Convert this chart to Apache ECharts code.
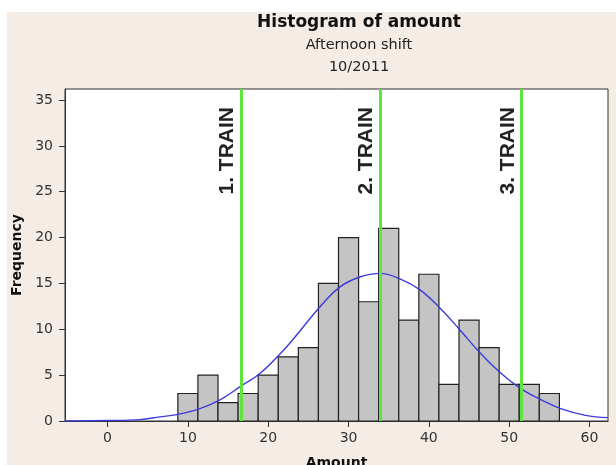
<!DOCTYPE html>
<html>
<head>
<meta charset="utf-8">
<script src="https://cdn.jsdelivr.net/npm/echarts@6/dist/echarts.min.js"></script>
<style>
  html, body { margin: 0; padding: 0; background: #fff; }
  #chart { width: 616px; height: 465px; }
</style>
</head>
<body>
<div id="chart"></div>
<script>
// histogram bins (centre of each bin, width 2.5)
var binCenters = [10, 12.5, 15, 17.5, 20, 22.5, 25, 27.5, 30, 32.5, 35, 37.5, 40, 42.5, 45, 47.5, 50, 52.5, 55];
var binCounts = [3, 5, 2, 3, 5, 7, 8, 15, 20, 13, 21, 11, 16, 4, 11, 8, 4, 4, 3];
var binWidth = 2.5;

// fitted curve
var curveX = [-5.3, 0, 4, 6.5, 8.6, 11.5, 14, 16.6, 19, 22.3, 26.4, 28.9, 31.4, 33.9, 36.4, 38.9, 41.4, 43.9, 46.3, 48.8, 51.5, 54.1, 56.4, 59.5, 62.3];
var curveY = [0.0, 0.05, 0.15, 0.45, 0.7, 1.35, 2.3, 3.8, 5.2, 8.1, 12.4, 14.6, 15.7, 16.1, 15.5, 14.3, 12.3, 9.9, 7.5, 5.35, 3.5, 2.26, 1.35, 0.62, 0.37];

// train markers
var trainX = [16.6, 33.9, 51.5];
var trainLabels = ['1. TRAIN', '2. TRAIN', '3. TRAIN'];

var xTicks = [0, 10, 20, 30, 40, 50, 60];

var chart = echarts.init(document.getElementById('chart'));

var barData = binCenters.map(function (c, i) { return [c, binCounts[i]]; });
var curveData = curveX.map(function (x, i) { return [x, curveY[i]]; });
var markData = trainX.map(function (x, i) {
  return { xAxis: x, label: { formatter: trainLabels[i] } };
});

var option = {
  animation: false,
  backgroundColor: '#fff',
  graphic: [
    { type: 'rect', z: -10, shape: { x: 7, y: 12, width: 609, height: 453 }, style: { fill: '#f5ece5' } },
    { type: 'text', style: { x: 359, y: 23, text: 'Histogram of amount', fill: '#111',
        font: 'bold 17px "DejaVu Sans", sans-serif', textAlign: 'center', textVerticalAlign: 'middle' } },
    { type: 'text', style: { x: 359, y: 45, text: 'Afternoon shift', fill: '#222',
        font: '14.5px "DejaVu Sans", sans-serif', textAlign: 'center', textVerticalAlign: 'middle' } },
    { type: 'text', style: { x: 359, y: 67, text: '10/2011', fill: '#222',
        font: '14.5px "DejaVu Sans", sans-serif', textAlign: 'center', textVerticalAlign: 'middle' } }
  ],
  grid: {
    left: 65, top: 89, right: 8, bottom: 44,
    outerBoundsMode: 'none',
    containLabel: false,
    show: true, backgroundColor: '#fff', borderColor: '#333', borderWidth: 1
  },
  xAxis: {
    type: 'value',
    min: -5.3, max: 62.3,
    name: 'Amount',
    nameLocation: 'middle',
    nameGap: 35,
    nameTextStyle: { fontFamily: 'DejaVu Sans', fontWeight: 'bold', fontSize: 14, color: '#111' },
    axisLine: { show: true, onZero: false, lineStyle: { color: '#333' } },
    axisTick: { show: true, inside: false, length: 6, customValues: xTicks, lineStyle: { color: '#333' } },
    axisLabel: { customValues: xTicks, margin: 10, fontFamily: 'DejaVu Sans', fontSize: 14, color: '#333' },
    splitLine: { show: false }
  },
  yAxis: {
    type: 'value',
    min: 0, max: 36.2, interval: 5,
    name: 'Frequency',
    nameLocation: 'middle',
    nameRotate: 90,
    nameGap: 41,
    nameTextStyle: { fontFamily: 'DejaVu Sans', fontWeight: 'bold', fontSize: 14, color: '#111' },
    axisLine: { show: true, onZero: false, lineStyle: { color: '#333' } },
    axisTick: { show: true, inside: false, length: 6, lineStyle: { color: '#333' } },
    axisLabel: {
      margin: 12, fontFamily: 'DejaVu Sans', fontSize: 14, color: '#333', showMaxLabel: false,
      formatter: function (v) { return v % 5 === 0 ? String(v) : ''; }
    },
    splitLine: { show: false }
  },
  series: [
    {
      type: 'custom',
      data: barData,
      renderItem: function (params, api) {
        var c = api.value(0), h = api.value(1);
        var p0 = api.coord([c - binWidth / 2, h]);
        var p1 = api.coord([c + binWidth / 2, 0]);
        return {
          type: 'rect',
          shape: { x: p0[0], y: p0[1], width: p1[0] - p0[0], height: p1[1] - p0[1] },
          style: { fill: '#c4c4c4', stroke: '#222', lineWidth: 1.2 }
        };
      },
      z: 2
    },
    {
      type: 'line',
      data: curveData,
      smooth: 0.4,
      showSymbol: false,
      lineStyle: { color: '#3b3bdc', width: 1.4 },
      z: 3,
      markLine: {
        silent: true,
        symbol: ['none', 'none'],
        lineStyle: { color: '#5fe53c', width: 3, type: 'solid' },
        label: {
          show: true,
          position: 'insideEndTop',
          distance: [18, 3],
          fontFamily: 'Liberation Sans',
          fontWeight: 'bold',
          fontSize: 21,
          color: '#222'
        },
        data: markData,
        z: 4
      }
    }
  ]
};

chart.setOption(option);
</script>
</body>
</html>
